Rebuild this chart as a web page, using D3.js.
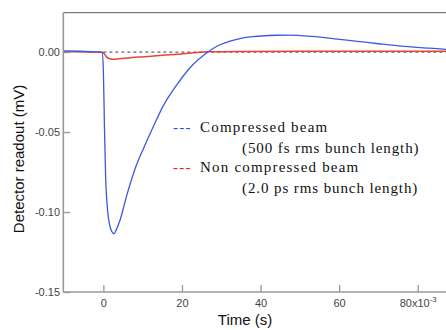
<!DOCTYPE html>
<html>
<head>
<meta charset="utf-8">
<script src="https://cdn.jsdelivr.net/npm/d3@7"></script>
<style>
  body { margin: 0; background: #fff; }
  svg { display: block; }
</style>
</head>
<body>
<svg id="chart" width="446" height="330"></svg>
<script>
// time in ms (axis shows x10^-3 s), readout in mV
var compressedTime = [-10.2, -6, -3, -1, -0.3, 0.0, 0.3, 0.6, 1.0, 1.5, 2.1, 2.72, 3.3, 4.25, 5.95, 8.07, 10.18, 12.72, 15.27, 18.68, 22.06, 26.6, 29, 32, 35, 38, 41, 44, 47, 50, 54, 58, 62, 66, 70, 75, 79, 83, 87.2]
var compressedMv = [0.0008, 0.0005, 0.0002, 0.0, -0.0003, -0.012, -0.05, -0.080, -0.097, -0.107, -0.112, -0.1135, -0.111, -0.105, -0.0896, -0.0729, -0.0604, -0.0465, -0.0335, -0.0205, -0.0098, 0.0, 0.0038, 0.0066, 0.0085, 0.0096, 0.0102, 0.0105, 0.0106, 0.0103, 0.0096, 0.0086, 0.0074, 0.0063, 0.0052, 0.0039, 0.0031, 0.0024, 0.0017]

var nonCompTime = [-10.2, -5, -1, -0.2, 0.5, 1.0, 1.8, 2.5, 4, 7, 10.6, 15, 19, 23, 26.6, 35, 50, 70, 87.2]
var nonCompMv = [0.0002, 0.0001, 0.0, -0.0001, -0.0020, -0.0035, -0.0044, -0.0045, -0.0042, -0.0035, -0.0029, -0.0020, -0.0013, -0.0004, 0.0002, 0.0004, 0.0005, 0.0005, 0.0005]

var xTicks = [0, 20, 40, 60, 80]
var yTicks = [0, -0.05, -0.10, -0.15]

var legendLines = [
  {mark: '---', color: '#2a4fe0', text: 'Compressed beam', sub: '(500 fs rms bunch length)'},
  {mark: '---', color: '#f01a1a', text: 'Non compressed beam', sub: '(2.0 ps rms bunch length)'}
]

var plotL = 63.3, plotR = 446, plotT = 12.7, plotB = 292

var x = d3.scaleLinear().domain([-10.2, 87.2]).range([plotL, plotR])
var y = d3.scaleLinear().domain([-0.15, 0.0246]).range([plotB, plotT])

var svg = d3.select('#chart')

// zero reference line
svg.append('line')
    .attr('x1', x(0)).attr('x2', plotR)
    .attr('y1', y(0)).attr('y2', y(0))
    .attr('stroke', '#666')
    .attr('stroke-width', 1.2)
    .attr('stroke-dasharray', '3,3')

var line = d3.line()
    .x(d => x(d[0]))
    .y(d => y(d[1]))
    .curve(d3.curveMonotoneX)

svg.append('path')
    .datum(d3.zip(nonCompTime, nonCompMv))
    .attr('fill', 'none')
    .attr('stroke', '#e8433c')
    .attr('stroke-width', 1.5)
    .attr('d', line)

svg.append('path')
    .datum(d3.zip(compressedTime, compressedMv))
    .attr('fill', 'none')
    .attr('stroke', '#3a5ae2')
    .attr('stroke-width', 1.3)
    .attr('d', line)

// frame
svg.append('line')
    .attr('x1', plotL).attr('x2', plotR)
    .attr('y1', plotT).attr('y2', plotT)
    .attr('stroke', '#7a7a7a')
    .attr('stroke-width', 1.3)

var xAxis = svg.append('g')
    .attr('transform', `translate(0,${plotB})`)
    .call(d3.axisBottom(x).tickValues(xTicks).tickSizeInner(-7).tickSizeOuter(0).tickPadding(7)
      .tickFormat(d => d))

var yAxis = svg.append('g')
    .attr('transform', `translate(${plotL},0)`)
    .call(d3.axisLeft(y).tickValues(yTicks).tickSizeInner(-7).tickSizeOuter(0).tickPadding(3.3)
      .tickFormat(d => d3.format('.2f')(d).replace('−', '-')))

for (const g of [xAxis, yAxis]) {
  g.select('.domain').attr('stroke', '#999').attr('stroke-width', 1.6)
  g.selectAll('.tick line').attr('stroke', '#999').attr('stroke-width', 1.3)
  g.selectAll('.tick text')
      .attr('fill', '#444')
      .style('font', '11px "Liberation Sans", Arial, sans-serif')
}
yAxis.select('.domain').attr('d', `M0,${plotT}V${plotB}`)
xAxis.select('.domain').attr('d', `M${plotL},0H${plotR}`)

// last tick gets the x10^-3 multiplier
xAxis.selectAll('.tick text').filter(d => d === 80)
    .text('80x10')
    .append('tspan')
    .attr('dy', '-5')
    .style('font-size', '8px')
    .text('-3')

svg.append('text')
    .attr('transform', 'translate(24,159) rotate(-90)')
    .attr('text-anchor', 'middle')
    .attr('fill', '#111')
    .style('font', '15px "Liberation Sans", Arial, sans-serif')
    .text('Detector readout (mV)')

svg.append('text')
    .attr('x', 245).attr('y', 325)
    .attr('text-anchor', 'middle')
    .attr('fill', '#111')
    .style('font', '15px "Liberation Sans", Arial, sans-serif')
    .text('Time (s)')

var legend = svg.append('g')
    .style('font', '15px "Liberation Serif", "Times New Roman", serif')
    .style('letter-spacing', '1.2px')

legendLines.forEach((l, i) => {
  var by = 132 + i * 40
  legend.append('text').attr('x', 173).attr('y', by).attr('fill', l.color).text(l.mark)
  legend.append('text').attr('x', 200).attr('y', by).attr('fill', '#111').text(l.text)
  legend.append('text').attr('x', 242).attr('y', by + 21).attr('fill', '#111').style('letter-spacing', '0.9px').text(l.sub)
})
</script>
</body>
</html>
